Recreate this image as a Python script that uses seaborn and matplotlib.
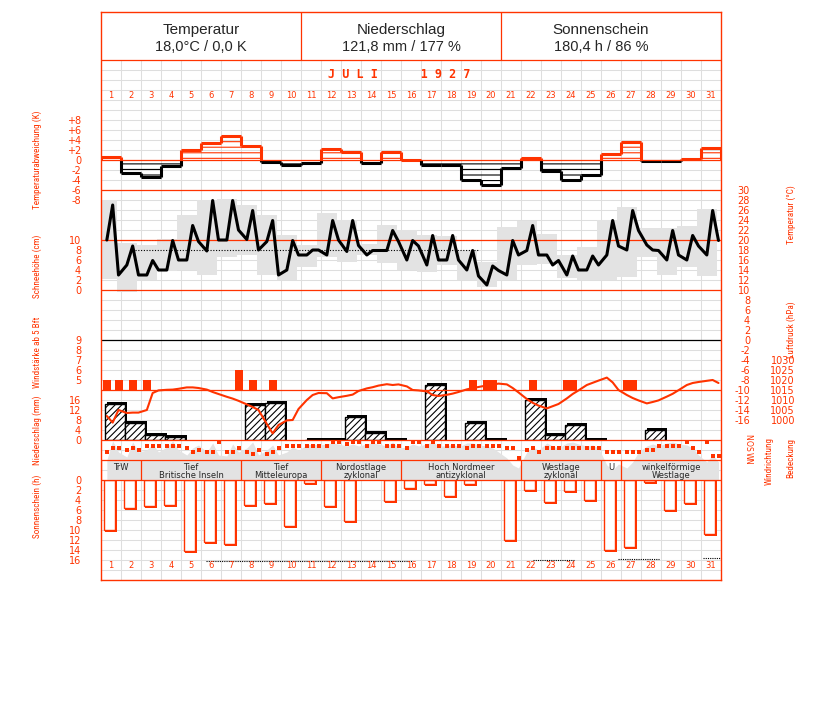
import numpy as np
import pandas as pd
import seaborn as sns
import matplotlib
matplotlib.use("Agg")
import matplotlib.pyplot as plt

#%% data
days = np.arange(1, 32)
obs_hours = [7, 14, 21]

header_titles = ["Temperatur", "Niederschlag", "Sonnenschein"]
header_values = ["18,0°C / 0,0 K", "121,8 mm / 177 %", "180,4 h / 86 %"]
month_title = "J U L I      1 9 2 7"

# daily temperature anomaly (K)
anomaly = [0.7, -2.5, -3.3, -1.2, 2.0, 3.5, 4.8, 2.9, -0.3, -1.0, -0.5, 2.2, 1.6, -0.5, 1.6,
           0.1, -1.0, -1.0, -3.9, -5.0, -1.5, 0.5, -2.2, -3.9, -2.9, 1.2, 3.7, -0.1, -0.1, 0.2, 2.5]

# temperature at 7, 14, 21 h (°C)
temp_obs = [20, 27, 13, 15, 18.8, 13, 13, 15.9, 14, 14, 19.9, 16, 16, 22.9, 19.7,
            17.8, 27.9, 20, 20, 27.9, 22, 20.1, 25.9, 18, 19.7, 23.9, 13, 14, 19.9, 17,
            17, 18, 18, 17, 23.9, 20, 17.7, 23.9, 18.9, 17, 17.9, 17.9, 17.9, 21.9, 19.7,
            16, 19.9, 18.8, 15, 20.9, 16, 16, 20.9, 16, 14, 17.9, 12.8, 11, 14.8, 13.9,
            13, 19.9, 17, 17.9, 22.9, 17, 17, 15, 15.9, 13, 16.8, 14, 14, 16.8, 15,
            17, 23.9, 18.8, 18, 25.9, 21.9, 19, 18, 17.9, 16, 21.9, 17, 16, 20.9, 18.8,
            17, 25.9, 19.9]

# daily extremes (°C)
tmax = [28, 19.5, 19, 20.2, 25, 28, 28.3, 27, 25, 21, 19, 25.5, 24, 19.3, 23.1,
        22, 21, 20.8, 18, 15.7, 22.7, 23.9, 21.3, 17, 18.7, 24.1, 26.7, 22.5, 22.5, 22.8, 26.3]
tmin = [12.3, 9.7, 12, 13.8, 14, 13, 16.7, 17, 13, 12, 14.7, 16.7, 15.7, 17, 15.5,
        14, 13.7, 15, 12, 10.7, 12, 15, 15.3, 12.5, 12.1, 12, 12.7, 16.7, 13, 14.7, 12.8]
temp_mark = (2.2, 19.35, 18.0)   # dotted reference: from day, to day, °C

# air pressure at 7, 14, 21 h (hPa)
pressure = [1002, 998.7, 1005, 1003.5, 1003.7, 1003.7, 1005, 1013.5, 1014.8, 1015.1, 1015.2, 1015.6, 1016.3, 1016.3, 1016,
            1015.2, 1014, 1013, 1011.6, 1010.7, 1009.6, 1007.8, 1006.5, 1005, 998, 993.3, 997.5, 999.8, 1000, 1005.5,
            1010, 1012.5, 1013.5, 1013.4, 1010.8, 1011.4, 1012.1, 1012.7, 1014.5, 1015.8, 1016.4, 1017.2, 1017.9, 1017.5, 1017.8,
            1016.8, 1015, 1014.8, 1014.3, 1012.5, 1012, 1012.6, 1013.2, 1014, 1015.3, 1016, 1016.5, 1017.3, 1017.7, 1018.2,
            1017.8, 1016, 1013.8, 1010.5, 1008.6, 1007.2, 1005.8, 1006.9, 1008, 1010.8, 1013, 1014.8, 1017.5, 1018.6, 1019.7,
            1021.2, 1018.8, 1015, 1012.5, 1011, 1009.8, 1008.3, 1009, 1009.8, 1011.7, 1013.1, 1014.9, 1017.5, 1018.5, 1019,
            1019.6, 1020, 1018.5]

# wind force >= 5 Bft: day, observation slot (0=7h, 1=14h, 2=21h), Bft
wind_day = [1, 1, 2, 3, 7, 8, 9, 19, 20, 20, 22, 24, 24, 27, 27]
wind_slot = [0, 2, 1, 0, 2, 1, 1, 1, 0, 1, 1, 0, 1, 0, 1]
wind_bft = [5, 5, 5, 5, 6, 5, 5, 5, 5, 5, 5, 5, 5, 5, 5]

# daily precipitation (mm), 0.1 = trace
precip = [14.5, 6.9, 2.0, 1.1, 0, 0, 0, 14.0, 14.9, 0, 0.1, 0.1, 9.1, 2.9, 0.1,
          0, 22.0, 0, 6.9, 0.1, 0, 15.8, 2.0, 6.0, 0.1, 0, 0, 4.0, 0, 0, 0]

# cloud cover (tenths) at 7, 14, 21 h
cover = [4, 6, 6, 5, 6, 5, 7, 7, 7, 7, 7, 7, 6, 4, 5,
         4, 4, 9, 4, 4, 6, 4, 3, 5, 3, 4, 6, 7, 7, 7,
         7, 7, 7, 7, 9, 9, 8, 9, 9, 7, 9, 9, 7, 7, 7,
         6, 9, 9, 7, 9, 7, 7, 7, 7, 6, 7, 7, 7, 7, 7,
         6, 6, 1, 5, 6, 4, 6, 6, 6, 6, 6, 6, 6, 6, 6,
         4, 4, 4, 4, 4, 4, 5, 5, 7, 7, 7, 7, 9, 6, 4,
         9, 2, 2]

# wind direction (degrees) at 7, 14, 21 h
wind_dir = [330, 45, 210, 285, 60, 210, 180, 90, 210, 135, 45, 180, 255, 150, 105,
            210, 75, 255, 270, 90, 210, 150, 60, 255, 180, 105, 255, 210, 135, 180,
            105, 90, 105, 90, 75, 90, 120, 90, 120, 90, 75, 90, 120, 60, 150,
            135, 90, 120, 90, 60, 120, 120, 90, 135, 75, 75, 105, 120, 150, 210,
            300, 405, 450, 210, 135, 180, 75, 120, 150, 75, 60, 90, 120, 105, 150,
            405, 480, 390, 450, 360, 210, 120, 90, 120, 75, 60, 90, 105, 150, 255,
            360, 255, 360]

# weather types (Großwetterlagen)
weather_names = ["TrW", "Tief\nBritische Inseln", "Tief\nMitteleuropa", "Nordostlage\nzyklonal",
                 "Hoch Nordmeer\nantizyklonal", "Westlage\nzyklonal", "U", "winkelförmige\nWestlage"]
weather_first = [1, 3, 8, 12, 16, 22, 26, 27]
weather_last = [2, 7, 11, 15, 21, 25, 26, 31]

# sunshine duration (h)
sunshine = [10.0, 5.5, 5.1, 4.9, 14.2, 12.4, 12.8, 4.9, 4.5, 9.2, 0.6, 5.1, 8.2, 0, 4.1,
            1.6, 0.8, 3.1, 0.8, 0, 11.9, 1.9, 4.3, 2.1, 3.9, 13.9, 13.4, 0.4, 5.9, 4.5, 10.8]
# possible sunshine (dotted): from day, to day, hours
sun_poss_from = [5.75, 22.1, 26.35, 30.6]
sun_poss_to = [16.05, 24.15, 28.4, 31.5]
sun_poss = [16.1, 16.0, 15.8, 15.65]

#%% frames
obs = pd.DataFrame({
    "x": np.repeat(days, 3) - 0.5 + np.tile(obs_hours, 31) / 24,
    "temp": temp_obs,
    "pressure": pressure,
    "cover": cover,
    "wind_dir": wind_dir,
})
wind = pd.DataFrame({"day": wind_day, "slot": wind_slot, "bft": wind_bft})
wind["x"] = wind.day - 0.5 + np.array(obs_hours)[wind.slot] / 24

#%% style
sns.set_style("white")
plt.rcParams["font.family"] = ["DejaVu Sans"]
RED = "#ff3300"
GRID = "#dedede"
BOX = "#e3e3e3"
NARROW = ["Roboto Condensed", "Liberation Sans Narrow", "Liberation Sans"]
plt.rcParams["hatch.linewidth"] = 0.8

W, H = 827, 702
X0, X1 = 101, 721

fig = plt.figure(figsize=(W / 100, H / 100), dpi=100)


def add_panel(top, bottom, ylim):
    ax = fig.add_axes([X0 / W, 1 - bottom / H, (X1 - X0) / W, (bottom - top) / H])
    ax.set_xlim(0.5, 31.5)
    ax.set_ylim(*ylim)
    ax.patch.set_visible(False)
    for s in ax.spines.values():
        s.set_visible(False)
    ax.set_xticks([])
    ax.set_yticks([])
    ax.tick_params(axis="y", length=0, labelsize=7, labelcolor=RED)
    return ax


def left_ticks(ax, ticks, labels=None):
    if labels is None:
        labels = [str(t) for t in ticks]
    ax.set_yticks(ticks, labels)
    ax.tick_params(axis="y", pad=14.4)


def right_ticks(ax, ticks, labels, pad, ha="right", rotation=0, size=7):
    ax.yaxis.tick_right()
    ax.set_yticks(ticks, labels)
    ax.tick_params(axis="y", pad=pad, labelrotation=rotation, labelsize=size)
    for lab in ax.get_yticklabels():
        lab.set_horizontalalignment(ha)


# background grid
ax_grid = fig.add_axes([X0 / W, 1 - 580 / H, (X1 - X0) / W, 520 / H])
ax_grid.set_xlim(0.5, 31.5)
ax_grid.set_ylim(580, 60)
ax_grid.set_xticks(np.arange(1.5, 31, 1))
ax_grid.set_yticks(np.arange(70, 580, 10))
ax_grid.tick_params(length=0, labelbottom=False, labelleft=False)
ax_grid.grid(True, color=GRID, lw=0.75)
for s in ax_grid.spines.values():
    s.set_visible(False)

#%% temperature anomaly
ax_anom = add_panel(100, 200, (-8, 12))
left_ticks(ax_anom, range(-8, 9, 2), [f"{t:+d}" if t else "0" for t in range(-8, 9, 2)])
anom = np.array(anomaly)
anom_col = [RED if v >= 0 else "black" for v in anom]
ax_anom.bar(days, anom, width=1, color="none", edgecolor=anom_col, hatch="---", linewidth=0)
ax_anom.hlines(anom, days - 0.5, days + 0.5, colors=anom_col, lw=2.2)
ext = np.concatenate([[0], anom, [0]])
for k in range(32):
    a, b = ext[k], ext[k + 1]
    hi, lo = max(a, b), min(a, b)
    if hi > 0:
        ax_anom.vlines(k + 0.5, max(lo, 0), hi, colors=RED, lw=2.2)
    if lo < 0:
        ax_anom.vlines(k + 0.5, lo, min(hi, 0), colors="black", lw=2.2)

#%% temperature
ax_temp = add_panel(190, 420, (-16, 30))
right_ticks(ax_temp, range(-16, 31, 2), [str(t) for t in range(-16, 31, 2)], pad=20.9)
ax_temp.bar(days - 0.21, np.array(tmax) - np.array(tmin), bottom=tmin, width=1, color=BOX, lw=0)
ax_temp.axhline(20, color=RED, lw=0.9)
ax_temp.hlines(temp_mark[2], temp_mark[0], temp_mark[1], colors="black", lw=0.8, linestyles=(0, (1, 1.5)))
sns.lineplot(data=obs, x="x", y="temp", ax=ax_temp, color="black", lw=2.2, estimator=None, sort=False)
ax_temp.set_xlabel("")
ax_temp.set_ylabel("")

#%% snow (no data)
ax_snow = add_panel(240, 290, (0, 10))
left_ticks(ax_snow, range(0, 11, 2))

#%% wind force
ax_wind = add_panel(340, 390, (4, 9))
left_ticks(ax_wind, range(5, 10))
ax_wind.bar(wind.x, wind.bft - 4, bottom=4, width=0.4, color=RED, lw=0)

#%% precipitation
ax_prec = add_panel(380, 440, (0, 24))
left_ticks(ax_prec, range(0, 17, 4))
prec = np.array(precip)
wet = prec > 0
ax_prec.bar(days[wet] + 0.3, prec[wet] + 0.8, width=1, color="black", lw=0)
ax_prec.bar(days[wet] + 0.2, prec[wet], width=1, facecolor="white", edgecolor="black",
            hatch="/////", lw=1)

#%% pressure
ax_pres = add_panel(360, 440, (990, 1030))
right_ticks(ax_pres, range(1000, 1031, 5), [str(t) for t in range(1000, 1031, 5)], pad=53.3)
sns.lineplot(data=obs, x="x", y="pressure", ax=ax_pres, color=RED, lw=1.5, estimator=None, sort=False)
ax_pres.set_xlabel("")
ax_pres.set_ylabel("")

#%% wind direction
ax_wdir = add_panel(438, 480, (630, 0))
ax_wdir.fill_between(obs.x, obs.wind_dir, 630, color=BOX, lw=0)
right_ticks(ax_wdir, [0, 90, 180, 270, 360], ["N", "O", "S", "W", "N"], pad=19.4,
            ha="center", rotation=-90, size=5.5)

#%% cloud cover
ax_cloud = add_panel(440, 460, (0, 10))
sns.scatterplot(data=obs, x="x", y="cover", ax=ax_cloud, color=RED, marker="s", s=5,
                linewidth=0, legend=False)
ax_cloud.set_xlabel("")
ax_cloud.set_ylabel("")

#%% sunshine
ax_sun = add_panel(480, 580, (20, 0))
left_ticks(ax_sun, range(0, 17, 2))
sun = np.array(sunshine)
sunny = sun > 0
ax_sun.bar(days[sunny] + 0.02, sun[sunny] + 0.45, width=0.6, color=RED, lw=0)
ax_sun.bar(days[sunny] - 0.06, sun[sunny], width=0.56, facecolor="white", edgecolor=RED, lw=1)
ax_sun.hlines(sun_poss, sun_poss_from, sun_poss_to, colors="black", lw=0.8, linestyles=(0, (1, 1)))

#%% overlay: frame, separators, texts
ax_top = fig.add_axes([X0 / W, 1 - 580 / H, (X1 - X0) / W, 568 / H])
ax_top.set_xlim(0.5, 31.5)
ax_top.set_ylim(580, 12)
ax_top.patch.set_visible(False)
ax_top.set_xticks([])
ax_top.set_yticks([])
for s in ax_top.spines.values():
    s.set_color(RED)
    s.set_linewidth(1)

ax_top.hlines([60, 160, 190, 290, 390, 440, 460, 480], 0.5, 31.5, colors=RED, lw=0.9)
ax_top.hlines(340, 0.5, 31.5, colors="black", lw=0.9)
ax_top.vlines([10.5, 20.5], 12, 60, colors=RED, lw=0.9)

for i, (t, v) in enumerate(zip(header_titles, header_values)):
    cx = 5.5 + 10 * i
    ax_top.text(cx, 30, t, ha="center", va="center", fontsize=11, family="Liberation Sans")
    ax_top.text(cx, 47, v, ha="center", va="center", fontsize=10.5, family="Liberation Sans")

ax_top.text(15.4, 75, month_title, ha="center", va="center", fontsize=8.5, color=RED,
            fontweight="bold", family="DejaVu Sans Mono")
for d in days:
    ax_top.text(d, 96, str(d), ha="center", va="center", fontsize=6, color=RED)
    ax_top.text(d, 566, str(d), ha="center", va="center", fontsize=6, color=RED)

ax_top.vlines(np.array(weather_first) - 0.5, 460, 480, colors=RED, lw=0.9)
for name, a, b in zip(weather_names, weather_first, weather_last):
    ax_top.text((a + b) / 2, 463, name, ha="center", va="top", fontsize=6, linespacing=0.85)

# axis titles
left_titles = [("Temperaturabweichung (K)", 160), ("Schneehöhe (cm)", 266),
               ("Windstärke ab 5 Bft", 352), ("Niederschlag (mm)", 430), ("Sonnenschein (h)", 506)]
for txt, y in left_titles:
    fig.text(37 / W, 1 - y / H, txt, rotation=90, ha="center", va="center", color=RED,
             fontsize=6.6, family=NARROW)
right_titles = [("Temperatur (°C)", 791, 215), ("Luftdruck (hPa)", 791, 330),
                ("Windrichtung", 769, 461), ("Bedeckung", 791, 458)]
for txt, x, y in right_titles:
    fig.text(x / W, 1 - y / H, txt, rotation=90, ha="center", va="center", color=RED,
             fontsize=6.6, family=NARROW)

fig.savefig("out.png", dpi=100, facecolor="white")
